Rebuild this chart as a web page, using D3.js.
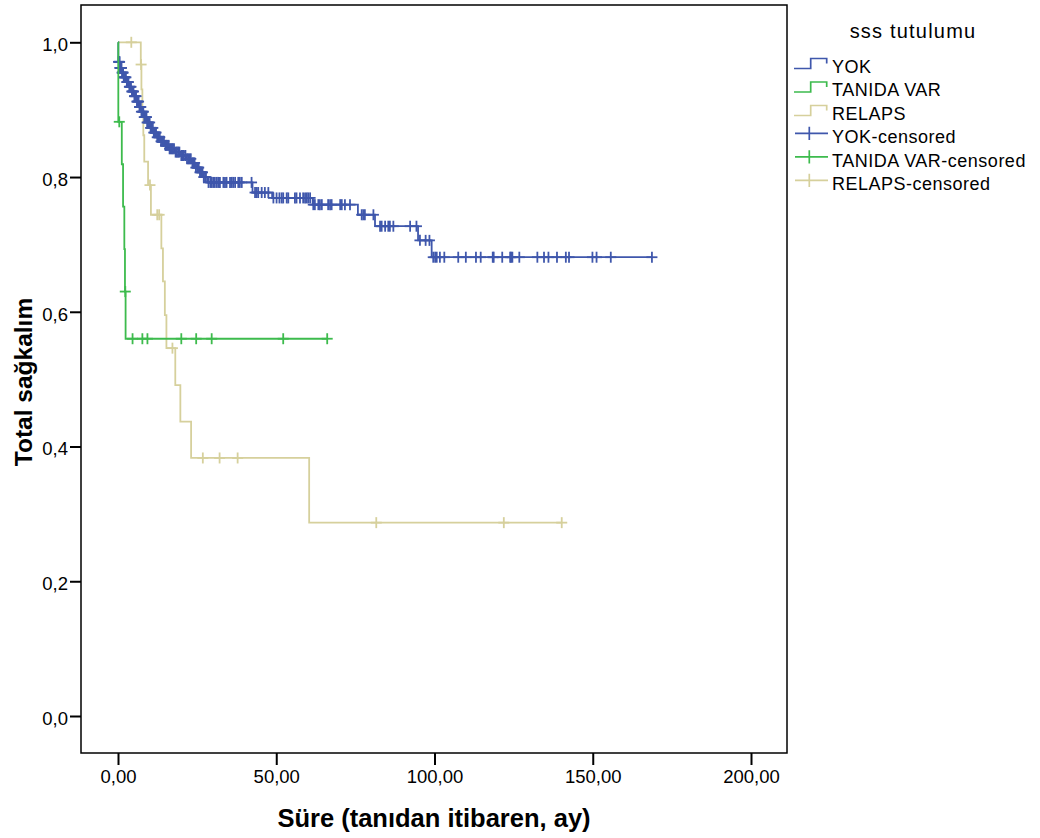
<!DOCTYPE html>
<html>
<head>
<meta charset="utf-8">
<script src="https://cdn.jsdelivr.net/npm/d3@7"></script>
<style>
  body { margin: 0; background: #fff; }
  svg { display: block; font-family: "Liberation Sans", Arial, sans-serif; }
</style>
</head>
<body>
<svg id="chart" width="1040" height="838"></svg>
<script>
// survival curves (time in months, survival)
var yokTimes = [0.1, 0.6, 1.2, 1.8, 2.6, 3.4, 4.2, 5.0, 5.8, 6.6, 7.4, 8.3, 9.2, 10.2, 11.3, 12.4, 13.6, 14.8, 16.2, 17.8, 19.6, 21.5, 23.2, 24.6, 25.8, 27.0, 28.4, 42.5, 48.7, 61.5, 75.8, 81.2, 94.8, 99.1];
var yokSurv = [0.971, 0.962, 0.955, 0.948, 0.941, 0.934, 0.927, 0.920, 0.912, 0.904, 0.897, 0.889, 0.881, 0.873, 0.866, 0.859, 0.853, 0.847, 0.842, 0.837, 0.832, 0.827, 0.821, 0.814, 0.807, 0.800, 0.792, 0.777, 0.769, 0.759, 0.744, 0.727, 0.706, 0.681];
var yokCensor = [0.2, 0.3, 0.4, 0.5, 0.6, 0.7, 0.8, 0.9, 1.0, 1.1, 1.3, 1.4, 1.5, 1.6, 1.8, 2.0, 2.1, 2.3, 2.5, 2.8, 2.9, 3.1, 3.3, 3.6, 3.7, 3.9, 4.1, 4.4, 4.5, 4.7, 4.9, 5.2, 5.3, 5.5, 5.7, 6.0, 6.1, 6.3, 6.5, 6.8, 6.9, 7.0, 7.2, 7.4, 7.7, 7.9, 8.0, 8.3, 8.6, 8.8, 9.0, 9.2, 9.5, 9.7, 10.0, 10.3, 10.5, 10.8, 11.0, 11.3, 11.6, 11.9, 12.0, 12.4, 12.7, 13.0, 13.2, 13.6, 14.0, 14.3, 14.5, 15.0, 15.2, 15.6, 16.0, 16.3, 16.6, 17.0, 17.3, 17.7, 18.2, 18.6, 19.0, 19.4, 20.0, 20.4, 20.8, 21.3, 21.8, 22.2, 22.6, 23.0, 23.5, 23.8, 24.2, 24.6, 25.0, 25.3, 25.5, 25.9, 26.2, 26.5, 26.7, 27.1, 27.5, 27.8, 28.6, 29.2, 29.6,
  30.1, 30.6, 31.2, 31.7, 32.2, 33.3, 33.8, 34.3, 35.4, 35.9, 36.4, 37.0, 38.0, 38.5, 39.1, 42.2,
  43.3, 43.8, 44.3, 45.4, 46.4, 47.5,
  49.1, 50.1, 51.0, 51.7, 52.2, 53.3, 53.8, 55.9, 56.4, 57.5, 58.5, 59.1, 59.6, 60.1, 60.7,
  61.7, 62.2, 63.3, 63.8, 64.4, 66.4, 67.0, 67.5, 70.2, 70.7, 71.7, 73.3,
  77.0, 77.5, 78.0, 80.7,
  82.8, 83.3, 84.4, 85.4, 85.9, 87.0, 92.3, 94.3,
  95.4, 97.2, 98.4,
  99.6, 100.2, 100.7, 101.7, 103.1, 107.5, 109.9, 113.1, 114.6, 118.4, 118.7, 121.4, 123.9, 124.2, 124.6, 126.8, 132.5, 134.6, 136.0, 138.7, 141.5, 142.5, 149.9, 151.2, 155.7, 168.7];

var tanidaTimes = [0.1, 1.2, 1.6, 2.0, 2.2, 2.4];
var tanidaSurv = [0.882, 0.819, 0.756, 0.693, 0.630, 0.560];
var tanidaCensor = [0.4, 2.3, 4.6, 7.7, 9.3, 20.0, 24.7, 29.6, 52.2, 66.1];

var relapsTimes = [7.2, 7.4, 7.7, 8.0, 8.3, 9.5, 10.4, 13.7, 14.2, 14.8, 15.3, 18.1, 19.7, 23.1, 60.4];
var relapsSurv = [0.967, 0.930, 0.896, 0.862, 0.823, 0.788, 0.744, 0.694, 0.645, 0.595, 0.546, 0.491, 0.437, 0.383, 0.287];
var relapsCensor = [4.2, 7.3, 10.1, 12.4, 13.0, 17.2, 26.8, 32.1, 37.8, 81.6, 121.9, 140.2];

var groupNames = ["YOK", "TANIDA VAR", "RELAPS"];
var groupColors = ["#3f57ac", "#3dbb4d", "#d6d09c"];

var xTicks = [0, 50, 100, 150, 200];
var xTickLabels = ["0,00", "50,00", "100,00", "150,00", "200,00"];
var yTicks = [0, 0.2, 0.4, 0.6, 0.8, 1.0];
var yTickLabels = ["0,0", "0,2", "0,4", "0,6", "0,8", "1,0"];

var svg = d3.select("#chart");

var frame = { left: 81, top: 5, right: 787, bottom: 753 };

var x = d3.scaleLinear().domain([0, 200]).range([118, 751]);
var y = d3.scaleLinear().domain([0, 1]).range([716, 42.3]);

// frame
svg.append("rect")
  .attr("x", frame.left)
  .attr("y", frame.top)
  .attr("width", frame.right - frame.left)
  .attr("height", frame.bottom - frame.top)
  .attr("fill", "none")
  .attr("stroke", "#000")
  .attr("stroke-width", 1.5);

// axes
var xAxis = d3.axisBottom(x)
  .tickValues(xTicks)
  .tickFormat(function(d, i) { return xTickLabels[i]; })
  .tickSize(12)
  .tickSizeOuter(0)
  .tickPadding(5);

var gx = svg.append("g")
  .attr("transform", "translate(0," + frame.bottom + ")")
  .call(xAxis);
gx.select(".domain").remove();
gx.selectAll("line").attr("stroke", "#000").attr("stroke-width", 2);
gx.selectAll("text")
  .attr("fill", "#000")
  .attr("font-size", 18.5)
  .attr("font-family", "Liberation Sans, Arial, sans-serif");

var yAxis = d3.axisLeft(y)
  .tickValues(yTicks)
  .tickFormat(function(d, i) { return yTickLabels[i]; })
  .tickSize(11)
  .tickSizeOuter(0)
  .tickPadding(2);

var gy = svg.append("g")
  .attr("transform", "translate(" + frame.left + ",0)")
  .call(yAxis);
gy.select(".domain").remove();
gy.selectAll("line").attr("stroke", "#000").attr("stroke-width", 2);
gy.selectAll("text")
  .attr("fill", "#000")
  .attr("font-size", 18.5)
  .attr("dy", "0.45em")
  .attr("font-family", "Liberation Sans, Arial, sans-serif");

// axis titles
svg.append("text")
  .attr("x", 434)
  .attr("y", 827)
  .attr("text-anchor", "middle")
  .attr("font-weight", "bold")
  .attr("font-size", 25.5)
  .text("Süre (tanıdan itibaren, ay)");

svg.append("text")
  .attr("transform", "translate(32,382) rotate(-90)")
  .attr("text-anchor", "middle")
  .attr("font-weight", "bold")
  .attr("font-size", 24.5)
  .text("Total sağkalım");

// survival curves
function survAt(times, surv, t) {
  var s = 1;
  for (var i = 0; i < times.length; i++) {
    if (times[i] <= t) s = surv[i];
  }
  return s;
}

var stepLine = d3.line()
  .x(function(d) { return x(d[0]); })
  .y(function(d) { return y(d[1]); })
  .curve(d3.curveStepAfter);

function drawGroup(times, surv, censor, color) {
  var pts = [[0, 1]];
  times.forEach(function(t, i) { pts.push([t, surv[i]]); });
  var tEnd = d3.max(censor.concat(times));
  pts.push([tEnd, survAt(times, surv, tEnd)]);

  var g = svg.append("g");
  g.append("path")
    .datum(pts)
    .attr("d", stepLine)
    .attr("fill", "none")
    .attr("stroke", color)
    .attr("stroke-width", 1.8);

  var marks = g.selectAll(".cens")
    .data(censor)
    .enter()
    .append("g")
    .attr("transform", function(d) {
      return "translate(" + x(d) + "," + y(survAt(times, surv, d)) + ")";
    });
  marks.append("line")
    .attr("x1", -5.5).attr("x2", 5.5).attr("y1", 0).attr("y2", 0)
    .attr("stroke", color).attr("stroke-width", 1.8);
  marks.append("line")
    .attr("x1", 0).attr("x2", 0).attr("y1", -5.5).attr("y2", 5.5)
    .attr("stroke", color).attr("stroke-width", 1.8);
}

drawGroup(relapsTimes, relapsSurv, relapsCensor, groupColors[2]);
drawGroup(yokTimes, yokSurv, yokCensor, groupColors[0]);
drawGroup(tanidaTimes, tanidaSurv, tanidaCensor, groupColors[1]);

// legend
var legend = svg.append("g");
legend.append("text")
  .attr("x", 913)
  .attr("y", 38)
  .attr("text-anchor", "middle")
  .attr("font-size", 20)
  .attr("letter-spacing", 1.2)
  .text("sss tutulumu");

var legendItems = groupNames.map(function(n, i) { return { label: n, color: groupColors[i], censored: false }; })
  .concat(groupNames.map(function(n, i) { return { label: n + "-censored", color: groupColors[i], censored: true }; }));

var rows = legend.selectAll(".row")
  .data(legendItems)
  .enter()
  .append("g")
  .attr("transform", function(d, i) { return "translate(0," + (72.5 + 23.5 * i) + ")"; });

rows.filter(function(d) { return !d.censored; })
  .append("path")
  .attr("d", "M794,-4H810.7V-14H826.7V-9")
  .attr("fill", "none")
  .attr("stroke", function(d) { return d.color; })
  .attr("stroke-width", 1.7);

rows.filter(function(d) { return d.censored; })
  .append("path")
  .attr("d", "M795,-9.7H828M809.3,-16.3V-3")
  .attr("fill", "none")
  .attr("stroke", function(d) { return d.color; })
  .attr("stroke-width", 1.7);

rows.append("text")
  .attr("x", 832)
  .attr("y", 0)
  .attr("font-size", 18)
  .attr("letter-spacing", 0.5)
  .text(function(d) { return d.label; });
</script>
</body>
</html>
